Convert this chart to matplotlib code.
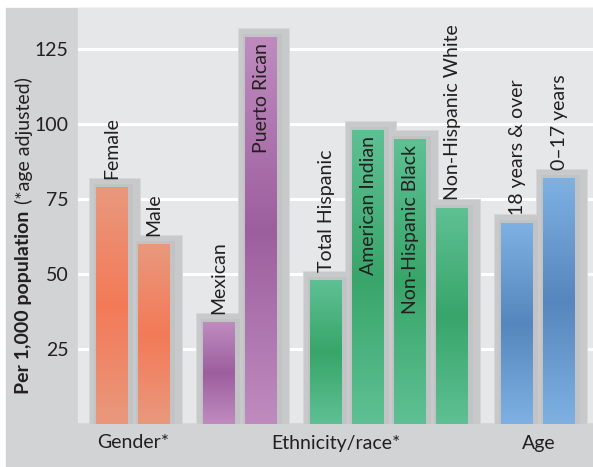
import numpy as np
import matplotlib.pyplot as plt
from matplotlib.patches import Rectangle
from matplotlib.colors import LinearSegmentedColormap

plt.rcParams['font.family'] = ['Lato', 'DejaVu Sans']

etiquetas = ['Female', 'Male', 'Mexican', 'Puerto Rican', 'Total Hispanic',
             'American Indian', 'Non-Hispanic Black', 'Non-Hispanic White',
             '18 years & over', '0–17 years']
valores = [79, 60, 34, 129, 48, 98, 95, 72, 67, 82]
bloque = [0, 0, 1, 1, 2, 2, 2, 2, 3, 3]       # clusters of bars
grupo = [0, 0, 1, 1, 1, 1, 1, 1, 2, 2]        # label groups
dentro = [False, False, False, True, False, True, True, False, False, False]
grupos = ['Gender*', 'Ethnicity/race*', 'Age']
yticks = [25, 50, 75, 100, 125]

# light / dark colour of each cluster
colores = [('#e9987d', '#f37a57'), ('#bf8bbf', '#9c5f9e'),
           ('#5ec093', '#38a56a'), ('#7eb1e2', '#5586bd')]

W, H = 593, 467
fig = plt.figure(figsize=(W / 100, H / 100), dpi=100)
fig.patch.set_facecolor('white')

def fx(px): return px / W
def fy(py): return 1 - py / H

# panels
fig.patches.append(Rectangle((fx(6), 0), fx(W - 6), fy(8), transform=fig.transFigure,
                             color='#d2d3d5', zorder=-2))
fig.patches.append(Rectangle((fx(78), fy(422)), fx(W - 78), fy(8) - fy(422),
                             transform=fig.transFigure, color='#e6e7e8', zorder=-1))

ax = fig.add_axes([fx(78), fy(425), fx(W - 78), fy(8) - fy(425)])
ax.set_facecolor('none')
for s in ax.spines.values():
    s.set_visible(False)

pos = np.arange(len(valores)) + np.array(bloque) * 0.55
ancho = 0.76
xmin, xmax = pos[0] - 0.81, pos[0] - 0.81 + 515 / 42
ymin, ymax = -0.3, (425 - 8) / 3 - 0.3
pxx = 1 / 42.0   # data units per pixel, x
pxy = 1 / 3.0    # data units per pixel, y

ax.set_yticks(yticks)
ax.yaxis.grid(True, color='white', lw=2.2, zorder=0)
ax.set_axisbelow(True)
ax.set_xticks([])
ax.tick_params(axis='y', length=0, pad=7, labelsize=14, labelcolor='#231f20')

def caja(x0, x1, top, color, alpha=1.0, z=1):
    ax.add_patch(Rectangle((x0, 0), x1 - x0, top, color=color, alpha=alpha,
                           lw=0, zorder=z))

for x, v, b in zip(pos, valores, bloque):
    izq, der = x - ancho / 2, x + ancho / 2
    # drop shadow: soft fringe, flat body, slightly darker core next to the bar
    caja(izq - 7 * pxx, der + 13 * pxx, v + 9 * pxy, '#d6d7d9', z=1)
    caja(izq - 6 * pxx, der + 12 * pxx, v + 8 * pxy, '#c8c9cb', z=1.1)
    caja(izq - 2 * pxx, der + 5 * pxx, v + 3 * pxy, '#b9babc', alpha=0.35, z=1.2)
    claro, oscuro = colores[b]
    cmap = LinearSegmentedColormap.from_list('c', [claro, oscuro, claro])
    barra = ax.bar(x, v, width=ancho, color=oscuro, zorder=2, lw=0)[0]
    grad = np.linspace(0, 1, 100).reshape(-1, 1)
    im = ax.imshow(grad, cmap=cmap, extent=(izq, der, 0, v), origin='lower',
                   aspect='auto', zorder=2.1, interpolation='bicubic')
    im.set_clip_path(barra)

for x, v, t, d in zip(pos, valores, etiquetas, dentro):
    if d:
        ax.annotate(t, (x, v), xytext=(0, -6), textcoords='offset pixels',
                    rotation=90, ha='center', va='top', fontsize=14,
                    color='#231f20', zorder=3)
    else:
        ax.annotate(t, (x, v), xytext=(0, 8), textcoords='offset pixels',
                    rotation=90, ha='center', va='bottom', fontsize=14,
                    color='#231f20', zorder=3)

for i, nombre in enumerate(grupos):
    xs = pos[np.array(grupo) == i]
    ax.annotate(nombre, ((xs.min() + xs.max()) / 2, H - 443),
                xycoords=('data', 'figure pixels'), ha='center', va='center',
                fontsize=14, color='#231f20', annotation_clip=False)

# y label: bold part, then the note in regular weight right after it
negrita = fig.text(fx(24), fy(394), 'Per 1,000 population', rotation=90,
                   ha='center', va='bottom', fontsize=14, fontweight='bold',
                   color='#231f20')
ax.annotate('(*age adjusted)', (0.5, 1), xycoords=negrita, xytext=(0, 7),
            textcoords='offset pixels', rotation=90, ha='center', va='bottom',
            fontsize=14, color='#231f20', annotation_clip=False)

ax.set_xlim(xmin, xmax)
ax.set_ylim(ymin, ymax)

fig.savefig('out.png', dpi=100)
